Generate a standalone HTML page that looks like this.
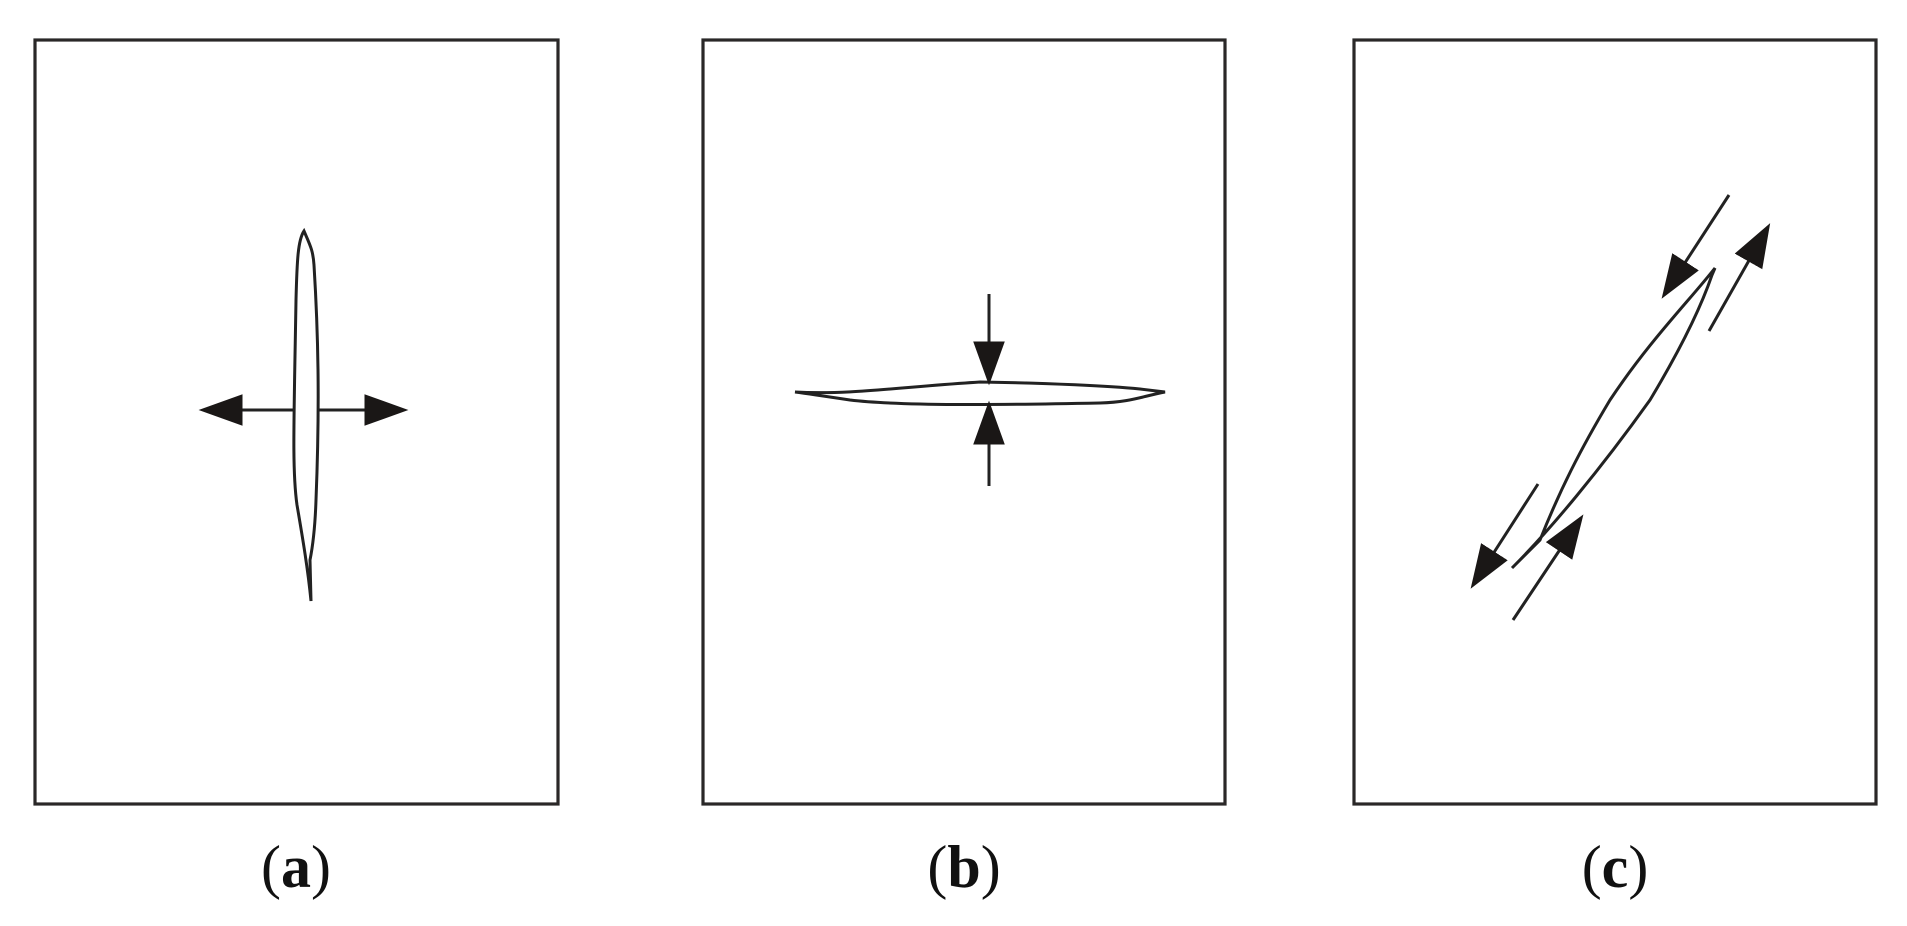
<!DOCTYPE html>
<html><head><style>
html,body{margin:0;padding:0;background:#fff;width:1907px;height:926px;overflow:hidden}
text{font-family:"Liberation Serif",serif;font-size:60px;fill:#111}
</style></head><body>
<svg width="1907" height="926" viewBox="0 0 1907 926">
<defs>
<marker id="ah" viewBox="0 0 10 10" refX="9" refY="5" markerWidth="44" markerHeight="44" markerUnits="userSpaceOnUse" orient="auto">
<path d="M0,1.4 L10,5 L0,8.6 z" fill="#1a1716"/>
</marker>
</defs>
<g fill="none" stroke="#2a2828" stroke-width="3.2">
<rect x="35" y="40" width="523" height="764"/>
<rect x="703" y="40" width="522" height="764"/>
<rect x="1354" y="40" width="522" height="764"/>
</g>
<g fill="none" stroke="#222" stroke-width="3">
<path d="M304,231 C310,245 313,250 314,265 C318,330 320,400 316,500 C315,530 312,550 310,560 L311,601 C308,570 303,540 297,505 C292,470 294,420 296,300 C297,260 298,240 304,231 Z"/>
<line x1="295" y1="410" x2="203" y2="410" marker-end="url(#ah)"/>
<line x1="318" y1="410" x2="404" y2="410" marker-end="url(#ah)"/>
<path d="M795,392 C850,395 900,387 980,382 C1050,383 1110,386 1140,389 L1165,392 C1140,397 1130,402 1100,403 C1000,405 900,406 850,400 C830,397 810,394 795,392 Z"/>
<line x1="989" y1="294" x2="989" y2="381" marker-end="url(#ah)"/>
<line x1="989" y1="486" x2="989" y2="405" marker-end="url(#ah)"/>
<path d="M1715,268 C1690,300 1650,340 1610,400 C1580,450 1560,490 1540,540 L1512,568 C1550,530 1600,470 1650,400 C1680,350 1700,310 1712,275 Z"/>
<line x1="1729" y1="195" x2="1664" y2="295" marker-end="url(#ah)"/>
<line x1="1709" y1="331" x2="1768" y2="227" marker-end="url(#ah)"/>
<line x1="1538" y1="484" x2="1473" y2="585" marker-end="url(#ah)"/>
<line x1="1513" y1="620" x2="1581" y2="518" marker-end="url(#ah)"/>
</g>
<text x="296" y="887" text-anchor="middle">(<tspan font-weight="bold">a</tspan>)</text>
<text x="964" y="887" text-anchor="middle">(<tspan font-weight="bold">b</tspan>)</text>
<text x="1615" y="887" text-anchor="middle">(<tspan font-weight="bold">c</tspan>)</text>
</svg>
</body></html>
